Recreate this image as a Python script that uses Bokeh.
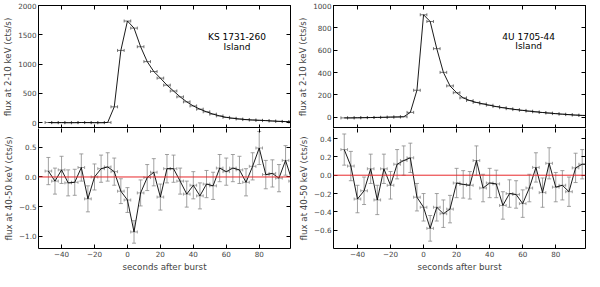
from bokeh.plotting import figure
from bokeh.models import (Range1d, ColumnDataSource, Whisker, TeeHead, Span, Label,
                          LinearAxis, FixedTicker, CustomJSTickFormatter)
from bokeh.layouts import row, column
from bokeh.embed import file_html
from bokeh.resources import INLINE

# ---- data ----
t = [-48, -44, -40, -36, -32, -28, -24, -20, -16, -12, -8, -4, 0, 4, 8, 12, 16, 20, 24, 28,
     32, 36, 40, 44, 48, 52, 56, 60, 64, 68, 72, 76, 80, 84, 88, 92, 96, 100]
t_halfwidth = 2

ks_soft = [2, 0, 1, -1, 0, 2, 1, 0, -1, 3,
           270, 1233, 1735, 1614, 1296, 1042, 873, 760, 640, 540, 440, 355, 285, 230,
           185, 145, 115, 90, 75, 62, 52, 45, 40, 35, 28, 22, 18, 12]
ks_hard = [0.10, -0.07, 0.12, -0.10, -0.09, 0.16, -0.37, 0.00, 0.14, 0.17, 0.09, -0.24,
           -0.39, -0.93, -0.27, -0.01, 0.08, -0.34, 0.14, 0.14, -0.07, -0.29, -0.14, -0.32,
           -0.12, -0.15, 0.15, 0.09, 0.15, 0.12, -0.09, 0.18, 0.49, 0.04, 0.06, -0.02, 0.28, -0.07]
ks_hard_err = [0.23, 0.22, 0.23, 0.22, 0.22, 0.23, 0.22, 0.22, 0.23, 0.24, 0.23, 0.21,
               0.21, 0.19, 0.22, 0.22, 0.23, 0.22, 0.24, 0.23, 0.22, 0.22, 0.23, 0.22,
               0.23, 0.23, 0.23, 0.23, 0.23, 0.23, 0.23, 0.23, 0.28, 0.24, 0.23, 0.23, 0.25, 0.24]

u4_soft = [-5, -5, -4, -3, -2, -1, 0, 2, 3, 5,
           44, 242, 917, 857, 614, 402, 281, 220, 174, 150, 133, 120, 108, 96,
           86, 77, 69, 62, 55, 49, 43, 38, 33, 28, 24, 20, 17, 15]
u4_hard = [0.28, 0.10, -0.26, -0.17, 0.07, -0.27, 0.07, -0.11, 0.12, 0.16, 0.19, -0.24,
           -0.35, -0.58, -0.35, -0.42, -0.37, -0.085, -0.10, -0.11, 0.16, -0.14, -0.085, -0.095,
           -0.33, -0.20, -0.21, -0.31, -0.14, 0.085, -0.19, 0.13, -0.13, -0.11, -0.18, 0.08, 0.12, 0.12]
u4_hard_err = [0.17, 0.16, 0.15, 0.15, 0.16, 0.16, 0.16, 0.15, 0.16, 0.16, 0.16, 0.15,
               0.15, 0.14, 0.15, 0.15, 0.15, 0.16, 0.15, 0.15, 0.16, 0.15, 0.16, 0.15,
               0.15, 0.15, 0.15, 0.15, 0.15, 0.16, 0.16, 0.17, 0.16, 0.16, 0.16, 0.16, 0.16, 0.16]

x_ticks = [-40, -20, 0, 20, 40, 60, 80]
ks_soft_ticks = [0, 500, 1000, 1500, 2000]
ks_hard_ticks = [-1.0, -0.5, 0.0, 0.5]
u4_soft_ticks = [0, 200, 400, 600, 800, 1000]
u4_hard_ticks = [-0.6, -0.4, -0.2, 0.0, 0.2, 0.4]

FONT = "DejaVu Sans"
TICK_FS = "7.2px"
LAB_FS = "8.7px"

int_fmt = CustomJSTickFormatter(code="return String(tick).replace('-', '\u2212');")
dec_fmt = CustomJSTickFormatter(code="return tick.toFixed(1).replace('-', '\u2212');")


def style_axis(ax, ticks, fmt, show_labels, line=True):
    ax.ticker = FixedTicker(ticks=ticks)
    ax.formatter = fmt
    ax.major_tick_in = 4
    ax.major_tick_out = 0
    ax.minor_tick_line_color = None
    ax.axis_line_color = "black" if line else None
    ax.major_tick_line_color = "black"
    ax.major_label_text_font = FONT
    ax.major_label_text_font_size = TICK_FS
    ax.axis_label_text_font = FONT
    ax.axis_label_text_font_style = "normal"
    ax.axis_label_text_font_size = LAB_FS
    ax.axis_label_standoff = 2
    if show_labels:
        ax.major_label_standoff = 2
    else:
        ax.major_label_text_color = None
        ax.major_label_standoff = 0


def make_fig(xr, yr, fw, fh, mbl, mbr, mbt, mbb, yticks, yfmt, is_bottom, ylabel, xlabel=None):
    p = figure(x_range=xr, y_range=yr, frame_width=fw, frame_height=fh,
               min_border_left=mbl, min_border_right=mbr, min_border_top=mbt,
               min_border_bottom=mbb, toolbar_location=None, output_backend="svg",
               background_fill_color="white", border_fill_color="white")
    p.grid.visible = False
    p.outline_line_color = None if is_bottom else "black"
    style_axis(p.xaxis[0], x_ticks, int_fmt, is_bottom)
    style_axis(p.yaxis[0], yticks, yfmt, True)
    p.yaxis[0].axis_label = ylabel
    if xlabel:
        p.xaxis[0].axis_label = xlabel
    ra = LinearAxis()
    style_axis(ra, yticks, yfmt, False)
    p.add_layout(ra, "right")
    ta = LinearAxis()
    style_axis(ta, x_ticks, int_fmt, False, line=not is_bottom)
    p.add_layout(ta, "above")
    return p


def soft_panel(p, vals):
    src = ColumnDataSource(dict(t=t, y=vals, lo=[v - t_halfwidth for v in t],
                                hi=[v + t_halfwidth for v in t]))
    p.add_layout(Whisker(source=src, base="y", lower="lo", upper="hi", dimension="width",
                         line_color="#555555", line_width=0.8,
                         upper_head=TeeHead(size=3, line_color="#555555", line_width=0.8),
                         lower_head=TeeHead(size=3, line_color="#555555", line_width=0.8)))
    p.line("t", "y", source=src, line_color="black", line_width=0.9)


def hard_panel(p, vals, errs):
    src = ColumnDataSource(dict(t=t, y=vals,
                                ylo=[v - e for v, e in zip(vals, errs)],
                                yhi=[v + e for v, e in zip(vals, errs)],
                                lo=[v - t_halfwidth for v in t],
                                hi=[v + t_halfwidth for v in t]))
    p.add_layout(Span(location=0, dimension="width", line_color="#e8282b", line_width=1))
    col = "#8a8a8a"
    p.add_layout(Whisker(source=src, base="t", lower="ylo", upper="yhi", dimension="height",
                         line_color=col, line_width=0.8,
                         upper_head=TeeHead(size=4, line_color=col, line_width=0.8),
                         lower_head=TeeHead(size=4, line_color=col, line_width=0.8)))
    p.add_layout(Whisker(source=src, base="y", lower="lo", upper="hi", dimension="width",
                         line_color=col, line_width=0.8,
                         upper_head=TeeHead(size=3, line_color=col, line_width=0.8),
                         lower_head=TeeHead(size=3, line_color=col, line_width=0.8)))
    p.line("t", "y", source=src, line_color="black", line_width=0.9)


# left column
xr_l = Range1d(-54, 99)
tl = make_fig(xr_l, Range1d(-100, 2000), 252, 123, 34, 3, 5, 0,
              ks_soft_ticks, int_fmt, False, "flux at 2-10 keV (cts/s)")
soft_panel(tl, ks_soft)
for txt, yy in (("KS 1731-260", 1460), ("Island", 1300)):
    tl.add_layout(Label(x=66.5, y=yy, text=txt, text_align="center", text_baseline="middle",
                        text_font=FONT, text_font_size="9px", text_color="black"))

bl = make_fig(xr_l, Range1d(-1.21, 0.82), 252, 120, 34, 3, 0, 23,
              ks_hard_ticks, dec_fmt, True, "flux at 40-50 keV (cts/s)", "seconds after burst")
hard_panel(bl, ks_hard, ks_hard_err)

# right column
xr_r = Range1d(-54.5, 98)
tr = make_fig(xr_r, Range1d(-100, 1000), 252, 123, 40, 3, 5, 0,
              u4_soft_ticks, int_fmt, False, "flux at 2-10 keV (cts/s)")
soft_panel(tr, u4_soft)
for txt, yy in (("4U 1705-44", 719), ("Island", 636)):
    tr.add_layout(Label(x=63.6, y=yy, text=txt, text_align="center", text_baseline="middle",
                        text_font=FONT, text_font_size="9px", text_color="black"))

br = make_fig(xr_r, Range1d(-0.8, 0.51), 252, 120, 40, 3, 0, 23,
              u4_hard_ticks, dec_fmt, True, "flux at 40-50 keV (cts/s)", "seconds after burst")
hard_panel(br, u4_hard, u4_hard_err)

layout = row(column(tl, bl), column(tr, br))

open("out.html", "w").write(file_html(layout, INLINE))
